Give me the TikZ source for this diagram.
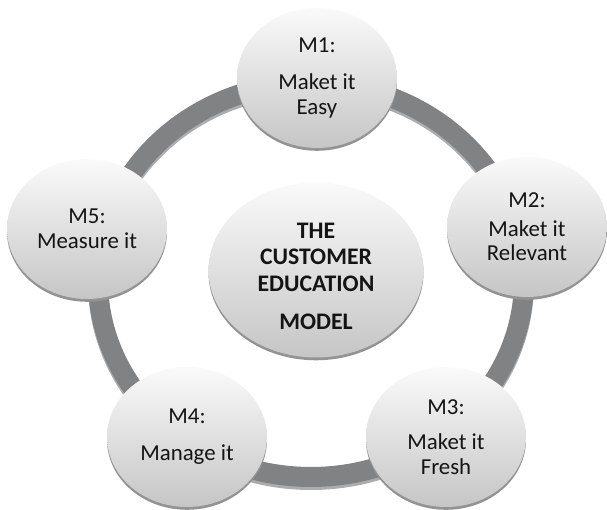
\documentclass[tikz,border=0pt]{standalone}
\usepackage{fontspec}
\setmainfont{Carlito}
\usepackage{xcolor}
\usetikzlibrary{shapes.geometric, shadows}
\definecolor{ringgray}{RGB}{128,130,132}
\definecolor{ringedge}{RGB}{170,172,174}
\definecolor{txtgray}{RGB}{20,20,20}
\tikzset{
  bubble/.style={ellipse, shade, top color=gray!4, bottom color=gray!45,
    inner sep=0pt, align=center, text=txtgray,
    drop shadow={shadow xshift=0pt, shadow yshift=-1.6pt, fill=gray!85, opacity=1}},
  sat/.style={bubble, minimum width=3.2cm, minimum height=2.8cm,
    font=\fontsize{13}{14}\selectfont},
  hub/.style={bubble, minimum width=4.3cm, minimum height=3.5cm,
    font=\fontsize{13.5}{15}\selectfont\bfseries},
}
\begin{document}
\begin{tikzpicture}
    \useasboundingbox (0,0) rectangle (12.14,10.2);
    % Ring
    \draw[ringedge, line width=0.4cm] (6.22,4.54) ellipse (4.26 and 3.94);
    \draw[ringgray, line width=0.4cm] (6.22,4.6) ellipse (4.26 and 3.94);
    % Centre
    \node[hub] (model) at (6.32,4.8)
        {\raisebox{-5pt}[\height][\depth]{\begin{tabular}{@{}c@{}}THE\\CUSTOMER\\EDUCATION\\[7pt]MODEL\end{tabular}}};
    % Steps
    \node[sat] (m1) at (6.34,8.64) {M1:\\[7pt]Maket it\\Easy};
    \node[sat] (m2) at (10.54,5.66) {M2:\\[2pt]Maket it\\Relevant};
    \node[sat] (m3) at (8.92,1.46) {M3:\\[6pt]Maket it\\Fresh};
    \node[sat] (m4) at (3.74,1.46) {M4:\\[7pt]Manage it};
    \node[sat] (m5) at (1.74,5.62) {M5:\\Measure it};
\end{tikzpicture}
\end{document}
